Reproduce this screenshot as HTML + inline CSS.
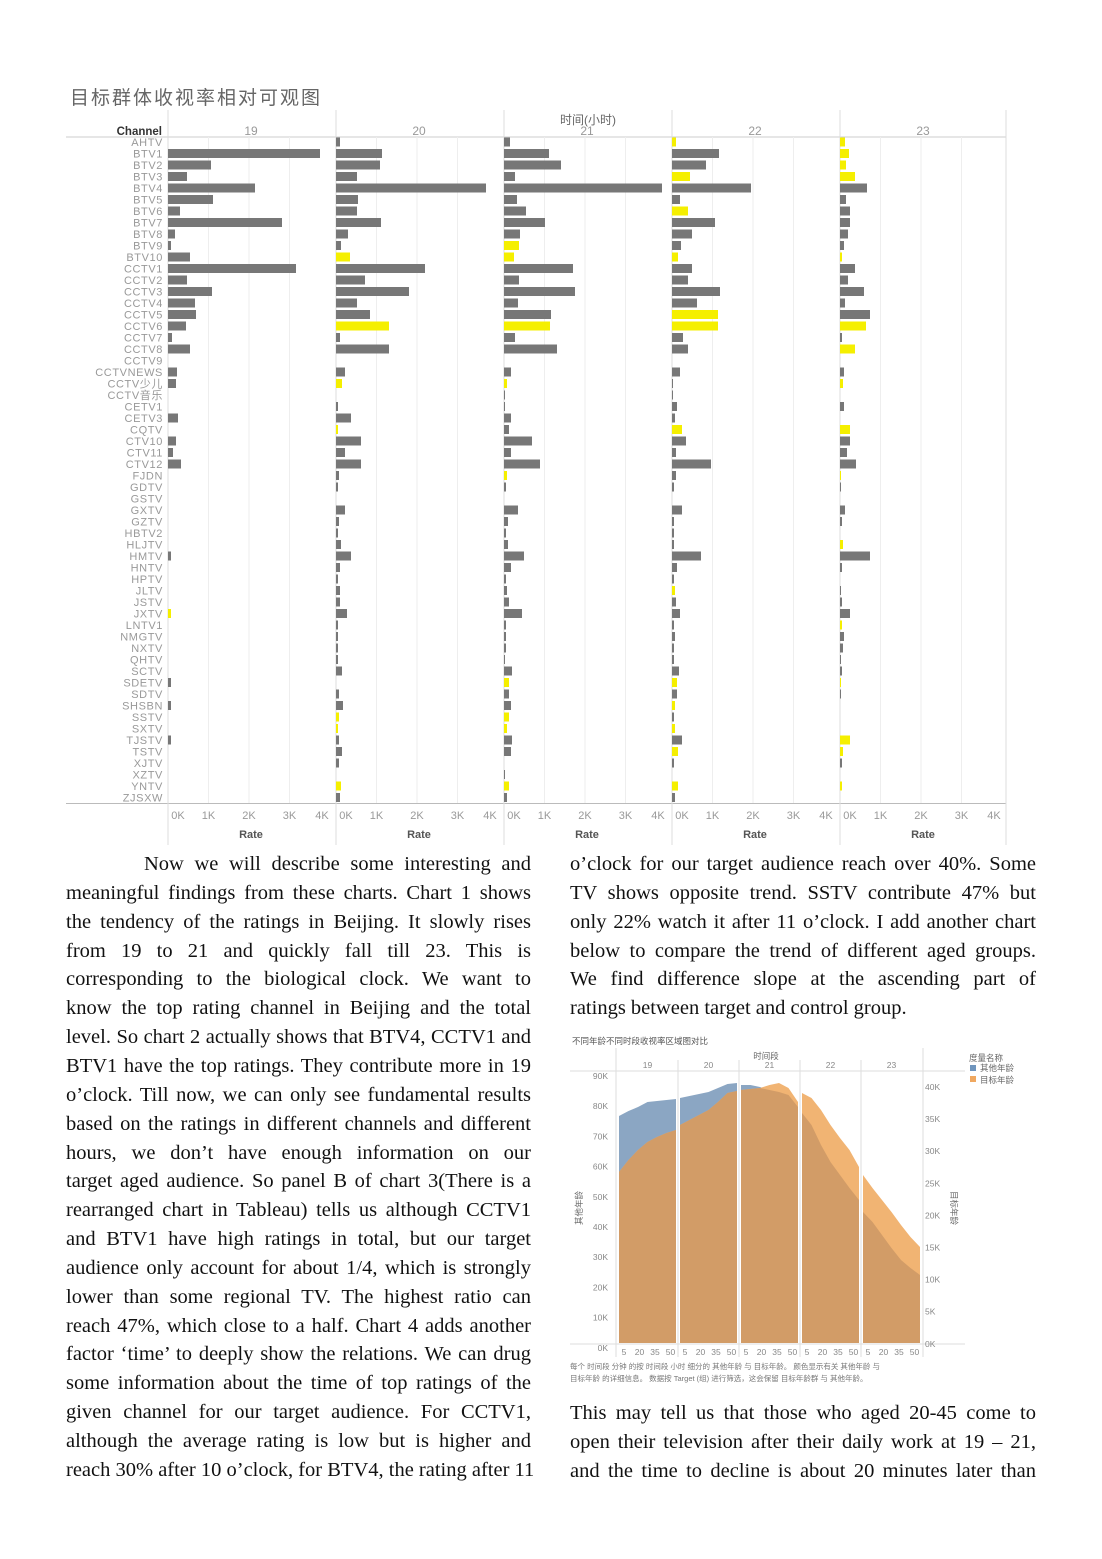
<!DOCTYPE html>
<html><head><meta charset="utf-8">
<style>
html,body{margin:0;padding:0;background:#fff;}
body{width:1102px;height:1559px;position:relative;overflow:hidden;}
.ln{position:absolute;font-family:"Liberation Serif",serif;font-size:20.5px;color:#111;text-align:justify;text-align-last:justify;white-space:nowrap;line-height:24px;}
.ln.last{text-align-last:left;}
svg{position:absolute;left:0;top:0;}
</style></head>
<body>
<svg id="s" width="1102" height="1559" xmlns="http://www.w3.org/2000/svg"></svg>
<div id="txt"></div>
<script>
var S=document.getElementById('s');var ns='http://www.w3.org/2000/svg';
function el(t,a,txt){var e=document.createElementNS(ns,t);for(var k in a)e.setAttribute(k,a[k]);if(txt!=null)e.textContent=txt;S.appendChild(e);return e;}
var SANS='"Liberation Sans","Noto Sans CJK SC",sans-serif';
el('text',{x:70,y:104,'font-family':SANS,'font-size':19,fill:'#666','letter-spacing':'2'},'目标群体收视率相对可观图');
el('text',{x:588,y:124,'font-family':SANS,'font-size':12,fill:'#666','text-anchor':'middle'},'时间(小时)');
var ch=['AHTV','BTV1','BTV2','BTV3','BTV4','BTV5','BTV6','BTV7','BTV8','BTV9','BTV10','CCTV1','CCTV2','CCTV3','CCTV4','CCTV5','CCTV6','CCTV7','CCTV8','CCTV9','CCTVNEWS','CCTV少儿','CCTV音乐','CETV1','CETV3','CQTV','CTV10','CTV11','CTV12','FJDN','GDTV','GSTV','GXTV','GZTV','HBTV2','HLJTV','HMTV','HNTV','HPTV','JLTV','JSTV','JXTV','LNTV1','NMGTV','NXTV','QHTV','SCTV','SDETV','SDTV','SHSBN','SSTV','SXTV','TJSTV','TSTV','XJTV','XZTV','YNTV','ZJSXW'];
var d=[
[0,152,43,19,87,45,12,114,7,3,22,128,19,44,27,28,18,4,22,0,9,8,0,0,10,0,8,5,13,0,0,0,0,0,0,0,3,0,0,0,0,-3,0,0,0,0,0,3,0,3,0,0,3,0,0,0,0,0],
[4,46,44,21,150,22,21,45,12,5,-14,89,29,73,21,34,-53,4,53,0,9,-6,0,2,15,-2,25,9,25,3,2,0,9,3,2,5,15,4,2,4,4,11,2,2,2,2,6,0,3,7,-3,-2,3,6,3,0,-5,4],
[6,45,57,11,158,13,22,41,16,-15,-10,69,15,71,14,47,-46,11,53,0,7,-3,1,1,7,5,28,7,36,-3,2,0,14,4,2,4,20,7,2,3,5,18,2,2,2,1,8,-5,5,7,-5,-3,8,7,0,1,-5,3],
[-4,47,34,-18,79,8,-16,43,20,9,-6,20,16,48,25,-46,-46,11,16,0,8,1,1,5,3,-10,14,4,39,4,2,0,10,2,2,2,29,5,2,-3,4,8,2,3,2,2,7,-5,5,-3,2,-3,10,-6,2,0,-6,3],
[-5,-9,-6,-15,27,6,10,10,8,4,-2,15,8,24,5,30,-26,2,-15,0,4,-3,0,4,0,-10,10,7,16,-1,1,0,5,2,0,-3,30,2,0,1,2,10,-2,4,3,1,2,-1,1,0,0,0,-10,-3,2,0,-2,0]];
var y0=142,dy=11.5;
el('line',{x1:66,y1:137,x2:1006,y2:137,stroke:'#ccc','stroke-width':1});
el('line',{x1:66,y1:803.5,x2:1006,y2:803.5,stroke:'#bbb','stroke-width':1});
el('text',{x:162,y:135,'font-family':SANS,'font-size':11.5,'font-weight':'bold',fill:'#333','text-anchor':'end'},'Channel');
var hrs=['19','20','21','22','23'];
for(var p=0;p<5;p++){var x0=168+p*168;
 for(var k=1;k<4;k++)el('line',{x1:x0+k*40.5,y1:137,x2:x0+k*40.5,y2:803,stroke:'#eee','stroke-width':1});
 el('line',{x1:x0,y1:110,x2:x0,y2:845,stroke:'#ddd','stroke-width':1});
 el('text',{x:x0+83,y:135,'font-family':SANS,'font-size':12,fill:'#999','text-anchor':'middle'},hrs[p]);
 var tl=['0K','1K','2K','3K','4K'];for(k=0;k<5;k++)el('text',{x:x0+(k==0?10:k==4?154:k*40.5),y:819,'font-family':SANS,'font-size':11,fill:'#999','text-anchor':'middle'},tl[k]);
 el('text',{x:x0+83,y:838,'font-family':SANS,'font-size':11,'font-weight':'bold',fill:'#555','text-anchor':'middle'},'Rate');
 for(var i=0;i<58;i++){var w=d[p][i];if(!w)continue;var yc=y0+i*dy;
  el('rect',{x:x0,y:yc-4.5,width:Math.abs(w),height:9,fill:w<0?'#f5ef00':'#777'});}
}
el('line',{x1:1006,y1:110,x2:1006,y2:845,stroke:'#ddd','stroke-width':1});
for(i=0;i<58;i++)el('text',{x:163,y:y0+i*dy+4,'font-family':SANS,'font-size':11,fill:'#999','text-anchor':'end','letter-spacing':'0.6'},ch[i]);

el('text',{x:572,y:1044,'font-family':SANS,'font-size':8.5,fill:'#555'},'不同年龄不同时段收视率区域图对比');
el('text',{x:766,y:1059,'font-family':SANS,'font-size':8.5,fill:'#666','text-anchor':'middle'},'时间段');
el('line',{x1:570,y1:1071,x2:965,y2:1071,stroke:'#ddd'});
el('line',{x1:570,y1:1344,x2:965,y2:1344,stroke:'#ddd'});
el('line',{x1:616,y1:1048,x2:616,y2:1357,stroke:'#ddd'});
el('line',{x1:923,y1:1048,x2:923,y2:1357,stroke:'#ddd'});
var L=['90K','80K','70K','60K','50K','40K','30K','20K','10K','0K'];
for(i=0;i<10;i++)el('text',{x:608,y:1079+i*30.2,'font-family':SANS,'font-size':8.5,fill:'#888','text-anchor':'end'},L[i]);
var R=['40K','35K','30K','25K','20K','15K','10K','5K','0K'];
for(i=0;i<9;i++)el('text',{x:925,y:1090+i*32.1,'font-family':SANS,'font-size':8.5,fill:'#888'},R[i]);
el('text',{x:0,y:0,transform:'translate(582,1208) rotate(-90)','font-family':SANS,'font-size':8.5,fill:'#666','text-anchor':'middle'},'其他年龄');
el('text',{x:0,y:0,transform:'translate(951,1208) rotate(90)','font-family':SANS,'font-size':8.5,fill:'#666','text-anchor':'middle'},'目标年龄');
el('text',{x:969,y:1061,'font-family':SANS,'font-size':8.5,fill:'#666'},'度量名称');
el('rect',{x:970,y:1065,width:6,height:6,fill:'#6f95bd'});
el('text',{x:980,y:1071,'font-family':SANS,'font-size':8.5,fill:'#666'},'其他年龄');
el('rect',{x:970,y:1076,width:6,height:6,fill:'#f0a860'});
el('text',{x:980,y:1083,'font-family':SANS,'font-size':8.5,fill:'#666'},'目标年龄');
var px=[[619,676],[680,737],[741,798],[802,859],[863,920]];
var B=[[1116,1111,1107,1102,1101,1100,1099],[1098,1096,1094,1092,1088,1084,1083],[1085,1085,1087,1090,1092,1095,1107],[1113,1125,1145,1162,1175,1188,1200],[1212,1222,1235,1248,1260,1268,1275]];
var O=[[1172,1160,1150,1142,1137,1133,1130],[1125,1120,1115,1110,1102,1093,1091],[1090,1089,1088,1085,1083,1088,1102],[1093,1098,1110,1125,1138,1150,1167],[1175,1188,1200,1212,1225,1237,1247]];
var hl=['19','20','21','22','23'];
for(p=0;p<5;p++){var a=px[p][0],b=px[p][1];
 function poly(arr){var s=a+',1343 ';for(var j=0;j<7;j++)s+=(a+(b-a)*j/6)+','+arr[j]+' ';return s+b+',1343';}
 var m=[];for(var j=0;j<7;j++)m.push(Math.max(B[p][j],O[p][j]));
 el('polygon',{points:poly(B[p]),fill:'#8ba6c3'});
 el('polygon',{points:poly(O[p]),fill:'#f1b473'});
 el('polygon',{points:poly(m),fill:'#d29c67'});
 el('text',{x:(a+b)/2,y:1068,'font-family':SANS,'font-size':8.5,fill:'#888','text-anchor':'middle'},hl[p]);
 var tk=['5','20','35','50'];for(j=0;j<4;j++)el('text',{x:a+5+j*15.5,y:1355,'font-family':SANS,'font-size':8.5,fill:'#888','text-anchor':'middle'},tk[j]);
 if(p>0)el('line',{x1:a-2,y1:1060,x2:a-2,y2:1357,stroke:'#ddd'});
}
el('text',{x:570,y:1369,'font-family':SANS,'font-size':7.5,fill:'#777'},'每个 时间段 分钟 的按 时间段 小时 细分的 其他年龄 与 目标年龄。 颜色显示有关 其他年龄 与');
el('text',{x:570,y:1381,'font-family':SANS,'font-size':7.5,fill:'#777'},'目标年龄 的详细信息。 数据按 Target (组) 进行筛选，这会保留 目标年龄群 与 其他年龄。');

var left=['<span style="padding-left:78px"></span>Now we will describe some interesting and','meaningful findings from these charts. Chart 1 shows','the tendency of the ratings in Beijing. It slowly rises','from 19 to 21 and quickly fall till 23. This is','corresponding to the biological clock. We want to','know the top rating channel in Beijing and the total','level. So chart 2 actually shows that BTV4, CCTV1 and','BTV1 have the top ratings. They contribute more in 19','o\u2019clock. Till now, we can only see fundamental results','based on the ratings in different channels and different','hours, we don\u2019t have enough information on our','target aged audience. So panel B of chart 3(There is a','rearranged chart in Tableau) tells us although CCTV1','and BTV1 have high ratings in total, but our target','audience only account for about 1/4, which is strongly','lower than some regional TV. The highest ratio can','reach 47%, which close to a half. Chart 4 adds another','factor \u2018time\u2019 to deeply show the relations. We can drug','some information about the time of top ratings of the','given channel for our target audience. For CCTV1,','although the average rating is low but is higher and','reach 30% after 10 o\u2019clock, for BTV4, the rating after 11'];
var right=['o\u2019clock for our target audience reach over 40%. Some','TV shows opposite trend. SSTV contribute 47% but','only 22% watch it after 11 o\u2019clock. I add another chart','below to compare the trend of different aged groups.','We find difference slope at the ascending part of','ratings between target and control group.'];
var right2=['This may tell us that those who aged 20-45 come to','open their television after their daily work at 19 \u2013 21,','and the time to decline is about 20 minutes later than'];
var h='';var lh=28.85;
left.forEach(function(t,i){h+='<div class="ln" style="left:66px;top:'+(852+i*lh)+'px;width:465px">'+t+'</div>';});
right.forEach(function(t,i){h+='<div class="ln'+(i==5?' last':'')+'" style="left:570px;top:'+(852+i*lh)+'px;width:466px">'+t+'</div>';});
right2.forEach(function(t,i){h+='<div class="ln" style="left:570px;top:'+(1401+i*lh)+'px;width:466px">'+t+'</div>';});
document.getElementById('txt').innerHTML=h;
</script>
</body></html>
